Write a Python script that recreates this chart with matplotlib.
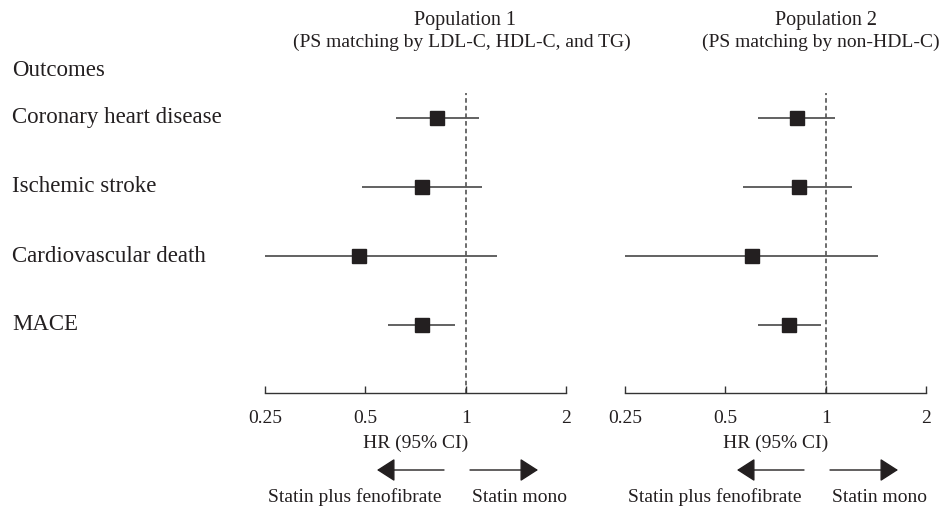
import matplotlib
matplotlib.use("Agg")
import matplotlib.pyplot as plt
from matplotlib.transforms import blended_transform_factory
import numpy as np

outcomes = ["Coronary heart disease", "Ischemic stroke", "Cardiovascular death", "MACE"]

p1_hr = [0.82, 0.74, 0.48, 0.74]
p1_lo = [0.62, 0.49, 0.25, 0.585]
p1_hi = [1.10, 1.12, 1.24, 0.93]

p2_hr = [0.82, 0.83, 0.60, 0.775]
p2_lo = [0.625, 0.565, 0.25, 0.625]
p2_hi = [1.066, 1.20, 1.44, 0.97]

titles = [("Population 1", "(PS matching by LDL-C, HDL-C, and TG)"),
          ("Population 2", "(PS matching by non-HDL-C)")]
ticks = [0.25, 0.5, 1, 2]
tick_labels = ["0.25", "0.5", "1", "2"]

plt.rcParams['font.family'] = ['Liberation Serif', 'DejaVu Serif']
W, H = 949, 507
fig = plt.figure(figsize=(W / 100, H / 100), dpi=100)

def fx(px):
    return px / W

def fy(py):
    return 1 - py / H

fs = 16.5
col = "#231f20"

panels = [(265, 566, p1_hr, p1_lo, p1_hi), (625, 926, p2_hr, p2_lo, p2_hi)]
axes = []
for (x0, x1, hr, lo, hi) in panels:
    ax = fig.add_axes([fx(x0), fy(393), fx(x1) - fx(x0), fy(93) - fy(393)])
    ax.set_xscale("log")
    ax.set_xlim(0.25, 2)
    n = len(outcomes)
    ax.set_ylim(3 + 68 / 69, -25 / 69)
    y = np.arange(n)
    for i in range(n):
        ax.plot([lo[i], hi[i]], [y[i], y[i]], color="#555555", lw=1.3, solid_capstyle="butt", zorder=2)
    ax.plot(hr, y, "s", color=col, ms=9.5, zorder=3)
    ax.axvline(1, color="#444444", lw=1.1, ls=(0, (3, 2)), zorder=1)
    for s in ["top", "left", "right"]:
        ax.spines[s].set_visible(False)
    ax.spines["bottom"].set_color("#333333")
    ax.spines["bottom"].set_linewidth(1.0)
    ax.set_yticks([])
    ax.set_xticks(ticks)
    ax.set_xticklabels(tick_labels, fontsize=14, color=col)
    ax.xaxis.set_minor_locator(matplotlib.ticker.NullLocator())
    ax.tick_params(axis="x", direction="in", length=5, width=1.0, color="#333333", pad=12)
    ax.set_xlabel("HR (95% CI)", fontsize=14, color=col, labelpad=6)
    ax.patch.set_alpha(0)
    axes.append(ax)

# row labels
tr = blended_transform_factory(fig.transFigure, axes[0].transData)
for i, name in enumerate(outcomes):
    axes[0].text(fx(12), i, name, transform=tr, ha="left", va="center", fontsize=fs, color=col)
fig.text(fx(12), fy(70), "Outcomes", ha="left", va="center", fontsize=fs, color=col)

# titles
fig.text(fx(465), fy(20), titles[0][0], ha="center", va="center", fontsize=14.5, color=col)
fig.text(fx(462), fy(42), titles[0][1], ha="center", va="center", fontsize=14, color=col)
fig.text(fx(826), fy(20), titles[1][0], ha="center", va="center", fontsize=14.5, color=col)
fig.text(fx(821), fy(42), titles[1][1], ha="center", va="center", fontsize=14, color=col)

# direction arrows
for (la0, la1, ra0, ra1, lt, rt) in [(444, 377, 470, 538, 355, 520), (804, 737, 830, 898, 715, 880)]:
    for (a, b) in [(la0, la1), (ra0, ra1)]:
        fig.add_artist(matplotlib.patches.FancyArrowPatch(
            (fx(a), fy(470)), (fx(b), fy(470)), transform=fig.transFigure,
            arrowstyle="-|>,head_length=7,head_width=4.5", mutation_scale=1.6,
            color=col, lw=1.0, shrinkA=0, shrinkB=0))
    fig.text(fx(lt), fy(497), "Statin plus fenofibrate", ha="center", va="center", fontsize=14, color=col)
    fig.text(fx(rt), fy(497), "Statin mono", ha="center", va="center", fontsize=14, color=col)

fig.savefig("out.png", dpi=100)
